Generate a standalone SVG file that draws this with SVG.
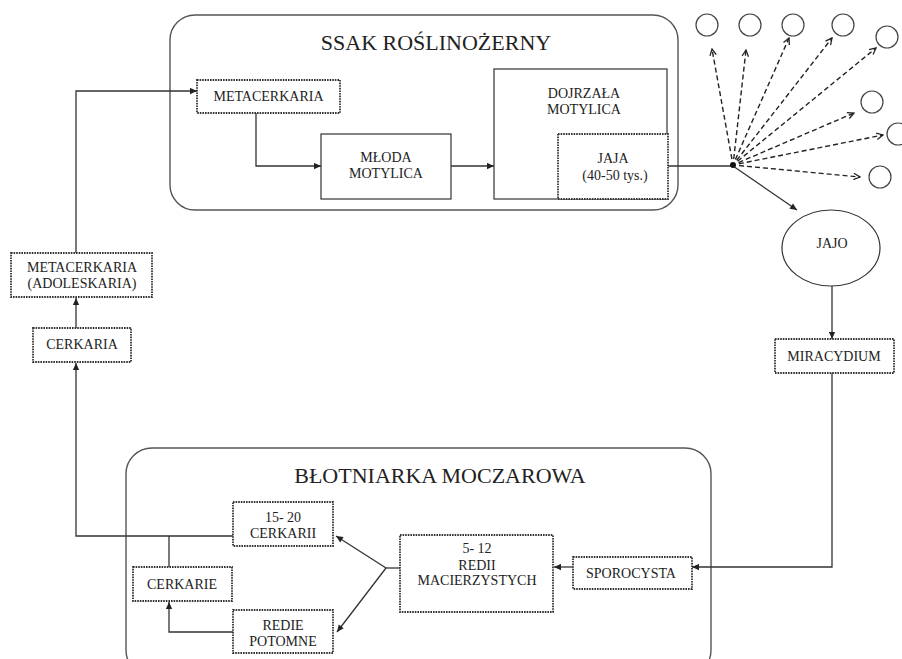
<svg xmlns="http://www.w3.org/2000/svg" width="902" height="659" viewBox="0 0 902 659">
<defs>
<marker id="arr" viewBox="0 0 10 10" refX="10" refY="5" markerWidth="8" markerHeight="7" markerUnits="userSpaceOnUse" orient="auto"><path d="M0,0.5 L10,5 L0,9.5 z" fill="#222"/></marker>
<marker id="open" viewBox="0 0 10 10" refX="9" refY="5" markerWidth="8" markerHeight="8" markerUnits="userSpaceOnUse" orient="auto"><path d="M1,1 L9,5 L1,9" fill="none" stroke="#222" stroke-width="1.6"/></marker>
</defs>
<style>
.cont{fill:none;stroke:#555;stroke-width:1.4}
.box{fill:#fff;stroke:#333;stroke-width:1.2}
.dot{fill:#fff;stroke:#333;stroke-width:1.8;stroke-dasharray:1.6 1}
.circ{fill:#fff;stroke:#444;stroke-width:1.2}
.t{font-family:"Liberation Serif","Times New Roman",serif;font-size:14px;fill:#222;text-anchor:middle}
.title{font-family:"Liberation Serif","Times New Roman",serif;font-size:22px;fill:#222;text-anchor:middle}
.ln{fill:none;stroke:#333;stroke-width:1.3}
.da{fill:none;stroke:#222;stroke-width:1.4;stroke-dasharray:5 3}
</style>
<rect width="902" height="659" fill="#fff"/>
<g id="host1">
<rect class="cont" x="170" y="15" width="508" height="195" rx="25"/>
<text class="title" x="436" y="50">SSAK ROŚLINOŻERNY</text>
</g>
<g id="host2">
<rect class="cont" x="126" y="448" width="585" height="228" rx="26"/>
<text class="title" x="440" y="483">BŁOTNIARKA MOCZAROWA</text>
</g>
<g id="connectors">
<path class="ln" d="M233,536 L76,536 L76,363" marker-end="url(#arr)"/>
<path class="ln" d="M169,536 L169,567"/>
<path class="ln" d="M76,328 L76,298" marker-end="url(#arr)"/>
<path class="ln" d="M76,253 L76,91 L197,91" marker-end="url(#arr)"/>
<path class="ln" d="M256,113 L256,166 L321,166" marker-end="url(#arr)"/>
<path class="ln" d="M451,166 L494,166" marker-end="url(#arr)"/>
<path class="ln" d="M668,166 L733,166"/>
<path class="ln" d="M733,166 L797,210" marker-end="url(#arr)"/>
<path class="ln" d="M832,286 L832,339" marker-end="url(#arr)"/>
<path class="ln" d="M832,373 L832,567 L692,567" marker-end="url(#arr)"/>
<path class="ln" d="M573,567 L554,567" marker-end="url(#arr)"/>
<path class="ln" d="M400,568 L386,568"/>
<path class="ln" d="M386,568 L336,536" marker-end="url(#arr)"/>
<path class="ln" d="M386,568 L337,632" marker-end="url(#arr)"/>
<path class="ln" d="M233,632 L169,632 L169,602" marker-end="url(#arr)"/>
<path class="da" d="M731.9,159.1 L712,49" marker-end="url(#open)"/>
<path class="da" d="M733.7,159 L746,50" marker-end="url(#open)"/>
<path class="da" d="M735.4,159.5 L789,38" marker-end="url(#open)"/>
<path class="da" d="M736.7,160.3 L832,38" marker-end="url(#open)"/>
<path class="da" d="M737.6,161.2 L876,48" marker-end="url(#open)"/>
<path class="da" d="M738.5,162.6 L854,113" marker-end="url(#open)"/>
<path class="da" d="M738.9,163.8 L883,135" marker-end="url(#open)"/>
<path class="da" d="M739,165.6 L860,177" marker-end="url(#open)"/>
<circle cx="733" cy="165" r="3" fill="#111"/>
</g>
<g id="metacerkaria">
<rect class="dot" x="197" y="80" width="143" height="33"/>
<text class="t" x="268.5" y="101">METACERKARIA</text>
</g>
<g id="mloda">
<rect class="box" x="321" y="134" width="130" height="65"/>
<text class="t" x="386" y="162">MŁODA</text>
<text class="t" x="386" y="178">MOTYLICA</text>
</g>
<g id="dojrzala">
<rect class="box" x="494" y="69" width="173" height="130"/>
<text class="t" x="584" y="98">DOJRZAŁA</text>
<text class="t" x="584" y="114">MOTYLICA</text>
</g>
<g id="jaja">
<rect class="dot" x="558" y="134" width="110" height="65"/>
<text class="t" x="613" y="163">JAJA</text>
<text class="t" x="615" y="180">(40-50 tys.)</text>
</g>
<g id="eggs">
<circle class="circ" cx="707" cy="25" r="11"/>
<circle class="circ" cx="750" cy="25" r="11"/>
<circle class="circ" cx="793" cy="25" r="11"/>
<circle class="circ" cx="843" cy="25" r="11"/>
<circle class="circ" cx="887" cy="37" r="11"/>
<circle class="circ" cx="872" cy="102" r="11"/>
<circle class="circ" cx="898" cy="134" r="11"/>
<circle class="circ" cx="880" cy="177" r="11"/>
</g>
<g id="jajo">
<ellipse class="box" cx="831" cy="248" rx="49" ry="38"/>
<text class="t" x="832" y="248">JAJO</text>
</g>
<g id="miracydium">
<rect class="dot" x="775" y="339" width="119" height="34"/>
<text class="t" x="834" y="361">MIRACYDIUM</text>
</g>
<g id="sporocysta">
<rect class="dot" x="573" y="557" width="119" height="32"/>
<text class="t" x="631" y="578">SPOROCYSTA</text>
</g>
<g id="redii">
<rect class="dot" x="400" y="535" width="153" height="77"/>
<text class="t" x="477" y="553">5- 12</text>
<text class="t" x="477" y="570">REDII</text>
<text class="t" x="477" y="585">MACIERZYSTYCH</text>
</g>
<g id="cerkarii">
<rect class="dot" x="233" y="502" width="100" height="44"/>
<text class="t" x="283" y="522">15- 20</text>
<text class="t" x="283" y="538">CERKARII</text>
</g>
<g id="redie">
<rect class="dot" x="233" y="610" width="100" height="43"/>
<text class="t" x="283" y="630">REDIE</text>
<text class="t" x="283" y="646">POTOMNE</text>
</g>
<g id="cerkarie">
<rect class="dot" x="133" y="567" width="99" height="34"/>
<text class="t" x="182" y="589">CERKARIE</text>
</g>
<g id="cerkaria">
<rect class="dot" x="33" y="328" width="98" height="34"/>
<text class="t" x="82" y="349">CERKARIA</text>
</g>
<g id="adoleskaria">
<rect class="dot" x="11" y="253" width="141" height="44"/>
<text class="t" x="82" y="272">METACERKARIA</text>
<text class="t" x="82" y="288">(ADOLESKARIA)</text>
</g>
</svg>
